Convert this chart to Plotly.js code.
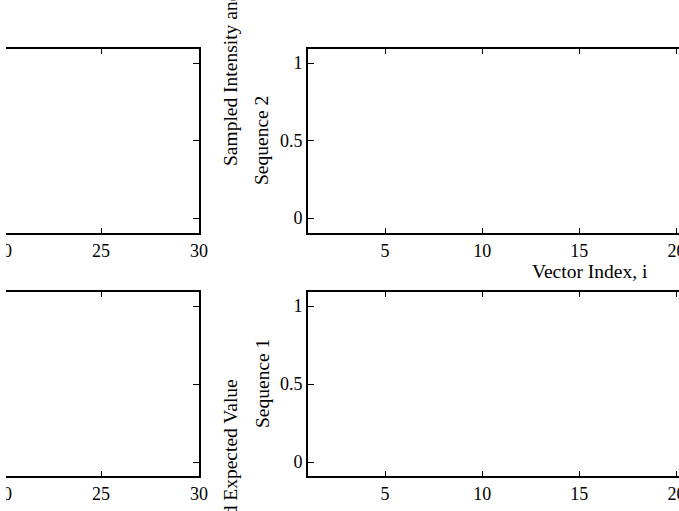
<!DOCTYPE html>
<html>
<head>
<meta charset="utf-8">
<script src="https://cdn.plot.ly/plotly-3.0.1.min.js"></script>
<style>html,body{margin:0;padding:0;background:#fff;}#chart{width:679px;height:511px;}</style>
</head>
<body>
<div id="chart"></div>
<script>
// Data (the reference panels are empty axes)
const vectorIndex = [];
const sequence1 = [];
const sequence2 = [];
const leftIndex = [];
const leftValues = [];
const leftXTicks = [20, 25, 30];
const rightXTicks = [5, 10, 15, 20];
const yTicks = [0, 0.5, 1];
const yTickLabels = ['0', '0.5', '1'];
const seq1Label = 'Sequence 1';
const seq2Label = 'Sequence 2';
const xLabel = 'Vector Index, i';
const sharedYLabel = 'Sampled Intensity and Expected Value';

const W = 679, H = 511;
const FONT = 'Liberation Serif, Times New Roman, serif';
const px = v => v / W;
const py = v => 1 - v / H;

const traces = [
  {x: leftIndex, y: leftValues, xaxis: 'x', yaxis: 'y', type: 'scatter', mode: 'lines', line: {color: '#000'}, showlegend: false},
  {x: vectorIndex, y: sequence2, xaxis: 'x2', yaxis: 'y2', type: 'scatter', mode: 'lines', line: {color: '#000'}, showlegend: false},
  {x: leftIndex, y: leftValues, xaxis: 'x3', yaxis: 'y3', type: 'scatter', mode: 'lines', line: {color: '#000'}, showlegend: false},
  {x: vectorIndex, y: sequence1, xaxis: 'x4', yaxis: 'y4', type: 'scatter', mode: 'lines', line: {color: '#000'}, showlegend: false}
];

const tickFont = {family: FONT, size: 18, color: '#000'};
function xAx(domain, range, tickvals, anchor) {
  return {domain, range, anchor, tickvals, ticks: 'inside', ticklen: 5, tickwidth: 1, tickcolor: '#000',
    showline: true, linewidth: 2, linecolor: '#000', mirror: 'allticks', showgrid: false, zeroline: false,
    tickfont: tickFont, ticklabeloverflow: 'allow', fixedrange: true};
}
function yAx(domain, range, anchor, side, showLabels) {
  return {domain, range, anchor, side, tickvals: yTicks, ticktext: yTickLabels,
    ticks: 'inside', ticklen: 6, tickwidth: 1, tickcolor: '#000',
    showline: true, linewidth: 2, linecolor: '#000', mirror: false, showgrid: false, zeroline: false,
    showticklabels: showLabels, tickfont: tickFont, ticklabeloverflow: 'allow', fixedrange: true};
}
// value range of an axis whose domain spans pixels [a,b], given two reference pixel/value pairs
function rangeFor(a, b, p0, v0, p1, v1) {
  const k = (v1 - v0) / (p1 - p0);
  return [v0 + (a - p0) * k, v0 + (b - p0) * k];
}

const leftDom = [0, px(199)];
const rightDom = [px(308), 1];
const topDom = [py(233), py(49)];
const botDom = [py(476), py(292)];
const leftRange = rangeFor(0, 199, 101, 25, 199, 30);
const rightRange = rangeFor(308, 679, 385, 5, 676.5, 20);
const topYRange = rangeFor(233, 49, 218, 0, 63, 1);
const botYRange = rangeFor(476, 292, 462, 0, 306, 1);

const titleFont = {family: FONT, size: 19.5, color: '#000'};
const layout = {
  width: W, height: H,
  margin: {l: 0, r: 0, t: 0, b: 0},
  paper_bgcolor: '#fff', plot_bgcolor: '#fff',
  showlegend: false,
  xaxis: xAx(leftDom, leftRange, leftXTicks, 'y'),
  yaxis: yAx(topDom, topYRange, 'x', 'right', false),
  xaxis2: xAx(rightDom, rightRange, rightXTicks, 'y2'),
  yaxis2: yAx(topDom, topYRange, 'x2', 'left', true),
  xaxis3: xAx(leftDom, leftRange, leftXTicks, 'y3'),
  yaxis3: yAx(botDom, botYRange, 'x3', 'right', false),
  xaxis4: xAx(rightDom, rightRange, rightXTicks, 'y4'),
  yaxis4: yAx(botDom, botYRange, 'x4', 'left', true),
  // white strip along the left edge, as in the cropped reference
  shapes: [
    {type: 'rect', xref: 'paper', yref: 'paper', x0: 0, x1: px(6), y0: 0, y1: 1, layer: 'above', fillcolor: '#fff', line: {width: 0}}
  ],
  annotations: [
    {text: sharedYLabel, xref: 'paper', yref: 'paper', x: px(230), y: py(16), textangle: -90, showarrow: false, xanchor: 'center', yanchor: 'middle', font: {family: FONT, size: 19.5, color: '#000'}},
    {text: sharedYLabel, xref: 'paper', yref: 'paper', x: px(230), y: py(530), textangle: -90, showarrow: false, xanchor: 'center', yanchor: 'middle', font: {family: FONT, size: 19.5, color: '#000'}},
    {text: seq2Label, xref: 'paper', yref: 'paper', x: px(262), y: py(141), textangle: -90, showarrow: false, xanchor: 'center', yanchor: 'middle', font: titleFont},
    {text: seq1Label, xref: 'paper', yref: 'paper', x: px(262), y: py(384), textangle: -90, showarrow: false, xanchor: 'center', yanchor: 'middle', font: titleFont},
    {text: xLabel, xref: 'paper', yref: 'paper', x: px(590), y: py(271), showarrow: false, xanchor: 'center', yanchor: 'middle', font: titleFont}
  ]
};

Plotly.newPlot('chart', traces, layout, {staticPlot: true, displayModeBar: false});
</script>
</body>
</html>
